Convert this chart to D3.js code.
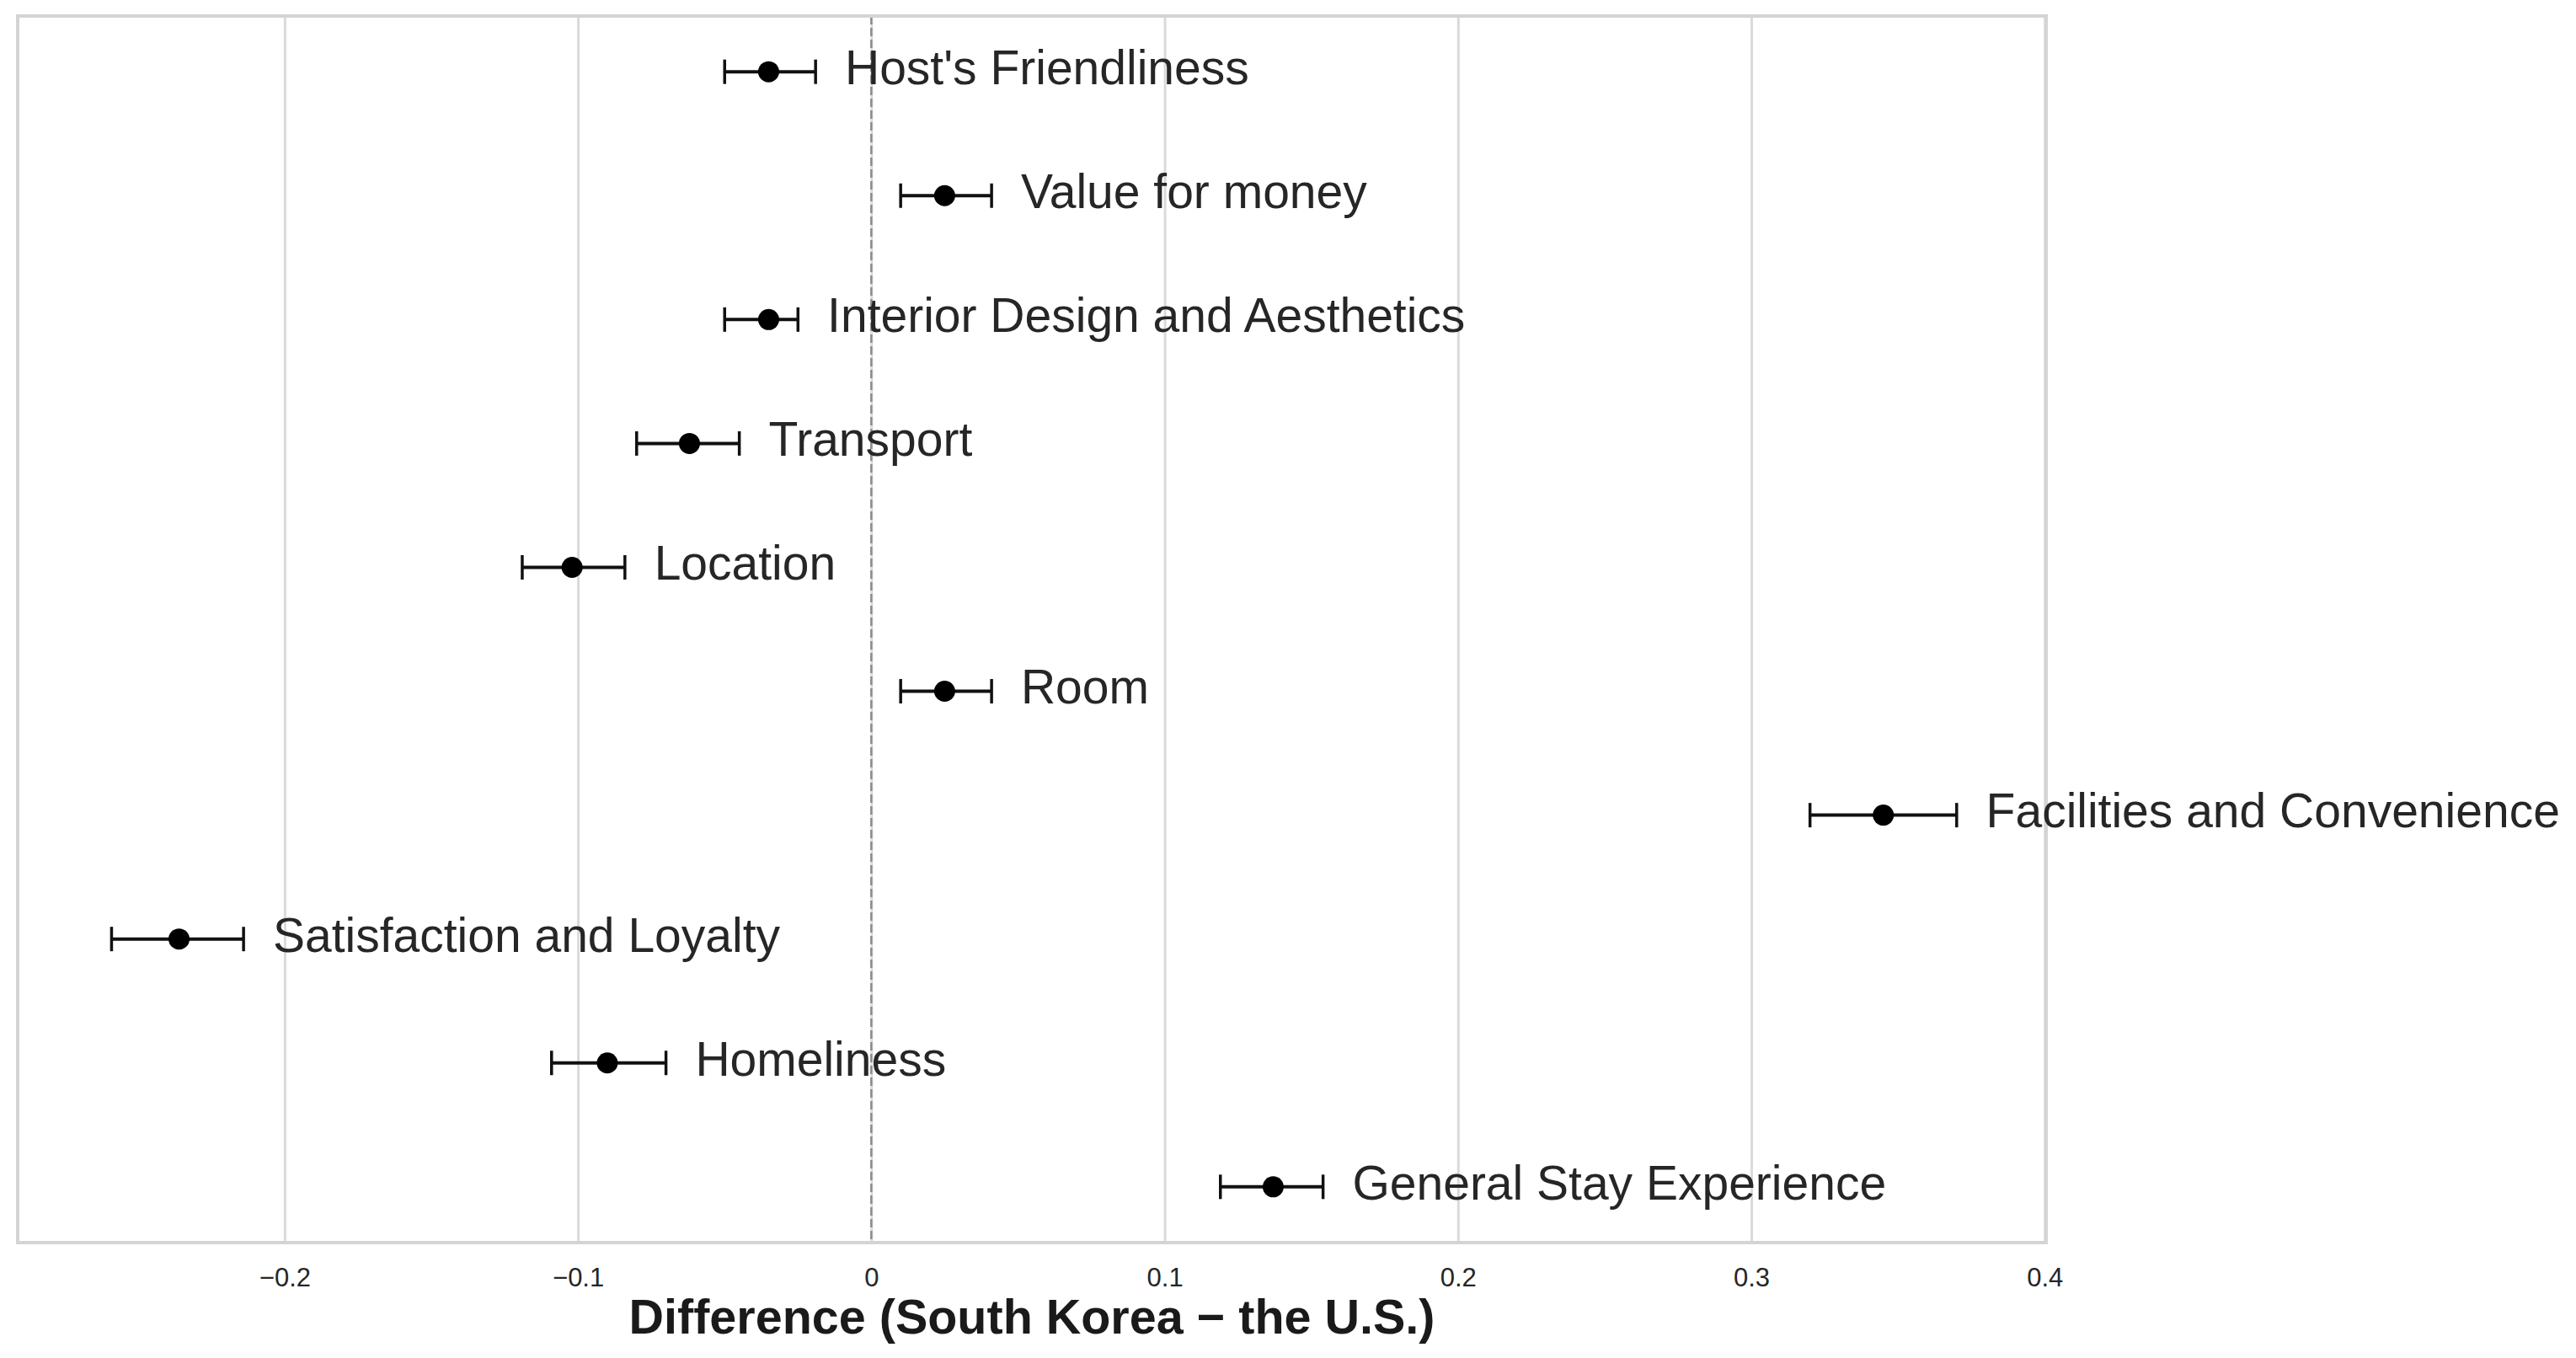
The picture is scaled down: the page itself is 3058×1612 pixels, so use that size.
<!DOCTYPE html>
<html>
<head>
<meta charset="utf-8">
<script src="https://cdn.jsdelivr.net/npm/d3@7"></script>
<style>
  body { margin: 0; background: #fff; }
  text { font-family: "Liberation Sans", Arial, sans-serif; }
</style>
</head>
<body>
<div id="chart"></div>
<script>
// Aspects, top to bottom
var aspects = ["Host's Friendliness", "Value for money", "Interior Design and Aesthetics",
    "Transport", "Location", "Room", "Facilities and Convenience",
    "Satisfaction and Loyalty", "Homeliness", "General Stay Experience"];

// Difference estimate and its interval
var estimate = [-0.035, 0.025, -0.035, -0.062, -0.102, 0.025, 0.345, -0.236, -0.090, 0.137];
var lower    = [-0.050, 0.010, -0.050, -0.080, -0.119, 0.010, 0.320, -0.259, -0.109, 0.119];
var upper    = [-0.019, 0.041, -0.025, -0.045, -0.084, 0.041, 0.370, -0.214, -0.070, 0.154];

var xTicks = [-0.2, -0.1, 0, 0.1, 0.2, 0.3, 0.4];
var xTitle = "Difference (South Korea \u2212 the U.S.)";

var size = { width: 3058, height: 1612 };
var plot = { left: 21, top: 19, right: 2429, bottom: 1475 };
var textColor = "#262626";
var gridColor = "#dadada";

var rows = aspects.map((name, i) => ({
    name: name, est: estimate[i], lo: lower[i], hi: upper[i]
}));

var svg = d3.select("#chart").append("svg")
    .attr("width", size.width)
    .attr("height", size.height);

// Scales
var x = d3.scaleLinear()
    .domain([-0.291, 0.4005])
    .range([plot.left, plot.right]);

var y = d3.scalePoint()
    .domain(aspects)
    .range([plot.top, plot.bottom])
    .padding(0.45);

// Vertical gridlines
svg.append("g")
    .attr("transform", "translate(0," + plot.bottom + ")")
    .call(d3.axisBottom(x).tickValues(xTicks).tickSize(-(plot.bottom - plot.top)).tickFormat(""))
    .call(g => g.select(".domain").remove())
    .call(g => g.selectAll("line").attr("stroke", gridColor).attr("stroke-width", 3));

// Zero reference line
svg.append("line")
    .attr("x1", x(0)).attr("x2", x(0))
    .attr("y1", plot.top).attr("y2", plot.bottom)
    .attr("stroke", "#8c8c8c")
    .attr("stroke-width", 2.5)
    .attr("stroke-dasharray", "10,4");

// Frame
svg.append("rect")
    .attr("x", plot.left).attr("y", plot.top)
    .attr("width", plot.right - plot.left)
    .attr("height", plot.bottom - plot.top)
    .attr("fill", "none")
    .attr("stroke", "#d4d4d4")
    .attr("stroke-width", 4);

// Tick labels
svg.append("g")
    .attr("transform", "translate(0," + plot.bottom + ")")
    .call(d3.axisBottom(x).tickValues(xTicks).tickSize(0).tickPadding(30)
        .tickFormat(d => d === 0 ? "0" : d3.format(".1f")(d)))
    .call(g => g.select(".domain").remove())
    .call(g => g.selectAll("text")
        .attr("font-size", 31)
        .attr("fill", textColor)
        .style("font-family", "'Liberation Sans', Arial, sans-serif"));

// Error bars with caps and points
var bars = svg.append("g").selectAll("g")
    .data(rows)
    .enter()
    .append("g")
    .attr("transform", d => "translate(0," + y(d.name) + ")");

bars.append("line")
    .attr("x1", d => x(d.lo)).attr("x2", d => x(d.hi))
    .attr("stroke", "#111").attr("stroke-width", 4);

bars.selectAll(".cap")
    .data(d => [d.lo, d.hi])
    .enter()
    .append("line")
    .attr("class", "cap")
    .attr("x1", v => x(v)).attr("x2", v => x(v))
    .attr("y1", -14.5).attr("y2", 14.5)
    .attr("stroke", "#111").attr("stroke-width", 3.5);

bars.append("circle")
    .attr("cx", d => x(d.est))
    .attr("r", 12.5)
    .attr("fill", "#000");

bars.append("text")
    .attr("x", d => x(d.hi + 0.01))
    .attr("dy", "0.26em")
    .attr("font-size", 57)
    .attr("fill", textColor)
    .text(d => d.name);

// Axis title
svg.append("text")
    .attr("x", (plot.left + plot.right) / 2)
    .attr("y", 1583)
    .attr("text-anchor", "middle")
    .attr("font-size", 57.5)
    .attr("font-weight", "bold")
    .attr("fill", "#1a1a1a")
    .text(xTitle);
</script>
</body>
</html>
